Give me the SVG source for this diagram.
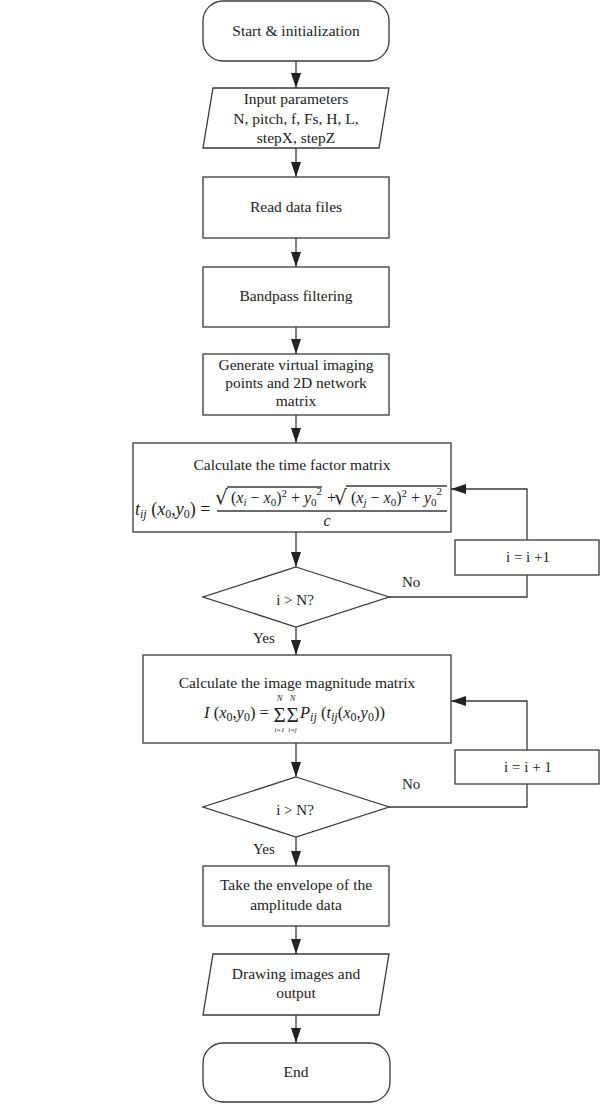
<svg xmlns="http://www.w3.org/2000/svg" width="600" height="1104" viewBox="0 0 600 1104">
<style>
.n{fill:#fff;stroke:#3a3a3a;stroke-width:1.3}
.t{font-family:"Liberation Serif",serif;font-size:15.5px;fill:#222;text-anchor:middle}
.m{font-family:"Liberation Serif",serif;fill:#222}
.r{font-family:"DejaVu Serif",serif;fill:#222}
.i{font-style:italic}
.c{fill:none;stroke:#3a3a3a;stroke-width:1.3}
.l{font-family:"Liberation Serif",serif;font-size:15px;fill:#222}
</style>
<defs>
<marker id="ah" viewBox="0 0 15 10" refX="15" refY="5" markerWidth="15" markerHeight="10" markerUnits="userSpaceOnUse" orient="auto">
<path d="M0,0 L15,5 L0,10 z" fill="#222"/>
</marker>
</defs>
<rect width="600" height="1104" fill="#fff"/>
<g id="connectors">
<line class="c" x1="296" y1="61" x2="296" y2="88" marker-end="url(#ah)"/>
<line class="c" x1="296" y1="148" x2="296" y2="177" marker-end="url(#ah)"/>
<line class="c" x1="296" y1="238" x2="296" y2="267" marker-end="url(#ah)"/>
<line class="c" x1="296" y1="327" x2="296" y2="354" marker-end="url(#ah)"/>
<line class="c" x1="296" y1="415" x2="296" y2="443" marker-end="url(#ah)"/>
<line class="c" x1="296" y1="532" x2="296" y2="567" marker-end="url(#ah)"/>
<line class="c" x1="296" y1="627" x2="296" y2="655" marker-end="url(#ah)"/>
<line class="c" x1="296" y1="743" x2="296" y2="777" marker-end="url(#ah)"/>
<line class="c" x1="296" y1="837" x2="296" y2="866" marker-end="url(#ah)"/>
<line class="c" x1="296" y1="926" x2="296" y2="954" marker-end="url(#ah)"/>
<line class="c" x1="296" y1="1015" x2="296" y2="1043" marker-end="url(#ah)"/>
<polyline class="c" points="389,597 527,597 527,575"/>
<polyline class="c" points="527,540 527,489 451,489" marker-end="url(#ah)"/>
<polyline class="c" points="389,807 527,807 527,784"/>
<polyline class="c" points="527,750 527,701 451,701" marker-end="url(#ah)"/>
<text class="l" x="402" y="587">No</text>
<text class="l" x="253" y="643">Yes</text>
<text class="l" x="402" y="789">No</text>
<text class="l" x="253" y="854">Yes</text>
</g>
<g id="start">
<rect class="n" x="203" y="1" width="186" height="60" rx="20"/>
<text class="t" x="296" y="36">Start &amp; initialization</text>
</g>
<g id="input">
<polygon class="n" points="213,88 389,88 379,148 203,148"/>
<text class="t" x="296" y="104">Input parameters</text>
<text class="t" x="296" y="124">N, pitch, f, Fs, H, L,</text>
<text class="t" x="296" y="143">stepX, stepZ</text>
</g>
<g id="read">
<rect class="n" x="203" y="177" width="186" height="61"/>
<text class="t" x="296" y="212">Read data files</text>
</g>
<g id="bandpass">
<rect class="n" x="203" y="267" width="186" height="60"/>
<text class="t" x="296" y="301">Bandpass filtering</text>
</g>
<g id="generate">
<rect class="n" x="203" y="354" width="186" height="61"/>
<text class="t" x="296" y="370">Generate virtual imaging</text>
<text class="t" x="296" y="388">points and 2D network</text>
<text class="t" x="296" y="406">matrix</text>
</g>
<g id="timefactor">
<rect class="n" x="133" y="443" width="318" height="89"/>
<text class="t" x="292" y="470">Calculate the time factor matrix</text>
<text class="m" x="135" y="515" style="font-size:18px"><tspan class="i">t</tspan><tspan class="i" dy="3" style="font-size:12px">ij</tspan><tspan dy="-3"> (</tspan><tspan class="i">x</tspan><tspan dy="3" style="font-size:12px">0</tspan><tspan dy="-3">,</tspan><tspan class="i">y</tspan><tspan dy="3" style="font-size:12px">0</tspan><tspan dy="-3">) =</tspan></text>
<text class="r" x="215" y="504" style="font-size:20px">√</text>
<line class="c" x1="227" y1="487" x2="322" y2="487"/>
<text class="m" x="231" y="503" style="font-size:16px">(<tspan class="i">x</tspan><tspan class="i" dy="3" style="font-size:11px">i</tspan><tspan dy="-3"> − </tspan><tspan class="i">x</tspan><tspan dy="3" style="font-size:11px">0</tspan><tspan dy="-3">)</tspan><tspan dy="-6" style="font-size:11px">2</tspan><tspan dy="6"> + </tspan><tspan class="i">y</tspan><tspan dy="3" style="font-size:11px">0</tspan><tspan dy="-11" style="font-size:11px">2</tspan></text>
<text class="m" x="327" y="503" style="font-size:16px">+</text>
<text class="r" x="334" y="504" style="font-size:20px">√</text>
<line class="c" x1="346" y1="486" x2="447" y2="486"/>
<text class="m" x="351" y="503" style="font-size:16px">(<tspan class="i">x</tspan><tspan class="i" dy="3" style="font-size:11px">j</tspan><tspan dy="-3"> − </tspan><tspan class="i">x</tspan><tspan dy="3" style="font-size:11px">0</tspan><tspan dy="-3">)</tspan><tspan dy="-6" style="font-size:11px">2</tspan><tspan dy="6"> + </tspan><tspan class="i">y</tspan><tspan dy="3" style="font-size:11px">0</tspan><tspan dy="-11" style="font-size:11px">2</tspan></text>
<line class="c" x1="217" y1="511" x2="447" y2="511"/>
<text class="m i" x="327" y="526" text-anchor="middle" style="font-size:16px">c</text>
</g>
<g id="inc1">
<rect class="n" x="455" y="540" width="144" height="35"/>
<text class="l" x="528" y="562" text-anchor="middle">i = i +1</text>
</g>
<g id="decision1">
<polygon class="n" points="296,567 389,597 296,627 203,597"/>
<text class="l" x="295" y="605" text-anchor="middle">i &gt; N?</text>
</g>
<g id="magnitude">
<rect class="n" x="143" y="655" width="308" height="88"/>
<text class="t" x="297" y="688">Calculate the image magnitude matrix</text>
<text class="m" x="204" y="718" style="font-size:16.5px"><tspan class="i">I</tspan><tspan> (</tspan><tspan class="i">x</tspan><tspan dy="3" style="font-size:12px">0</tspan><tspan dy="-3">,</tspan><tspan class="i">y</tspan><tspan dy="3" style="font-size:12px">0</tspan><tspan dy="-3">) =</tspan></text>
<text class="m" x="279.5" y="722" text-anchor="middle" style="font-size:21px">Σ</text>
<text class="m" x="292.5" y="722" text-anchor="middle" style="font-size:21px">Σ</text>
<text class="m i" x="279.5" y="701" text-anchor="middle" style="font-size:8.5px">N</text>
<text class="m i" x="292.5" y="701" text-anchor="middle" style="font-size:8.5px">N</text>
<text class="m i" x="279.5" y="732" text-anchor="middle" style="font-size:7px">i=1</text>
<text class="m i" x="292.5" y="732" text-anchor="middle" style="font-size:7px">i=j</text>
<text class="m" x="300" y="718" style="font-size:16.5px"><tspan class="i">P</tspan><tspan class="i" dy="3" style="font-size:12px">ij</tspan><tspan dy="-3"> (</tspan><tspan class="i">t</tspan><tspan class="i" dy="3" style="font-size:12px">ij</tspan><tspan dy="-3">(</tspan><tspan class="i">x</tspan><tspan dy="3" style="font-size:12px">0</tspan><tspan dy="-3">,</tspan><tspan class="i">y</tspan><tspan dy="3" style="font-size:12px">0</tspan><tspan dy="-3">))</tspan></text>
</g>
<g id="inc2">
<rect class="n" x="455" y="750" width="144" height="34"/>
<text class="l" x="528" y="772" text-anchor="middle">i = i + 1</text>
</g>
<g id="decision2">
<polygon class="n" points="296,777 389,807 296,837 203,807"/>
<text class="l" x="295" y="815" text-anchor="middle">i &gt; N?</text>
</g>
<g id="envelope">
<rect class="n" x="203" y="866" width="186" height="60"/>
<text class="t" x="296" y="890">Take the envelope of the</text>
<text class="t" x="296" y="910">amplitude data</text>
</g>
<g id="drawing">
<polygon class="n" points="213,954 389,954 379,1015 203,1015"/>
<text class="t" x="296" y="979">Drawing images and</text>
<text class="t" x="296" y="998">output</text>
</g>
<g id="end">
<rect class="n" x="203" y="1043" width="187" height="59" rx="20"/>
<text class="t" x="296" y="1077">End</text>
</g>
</svg>
